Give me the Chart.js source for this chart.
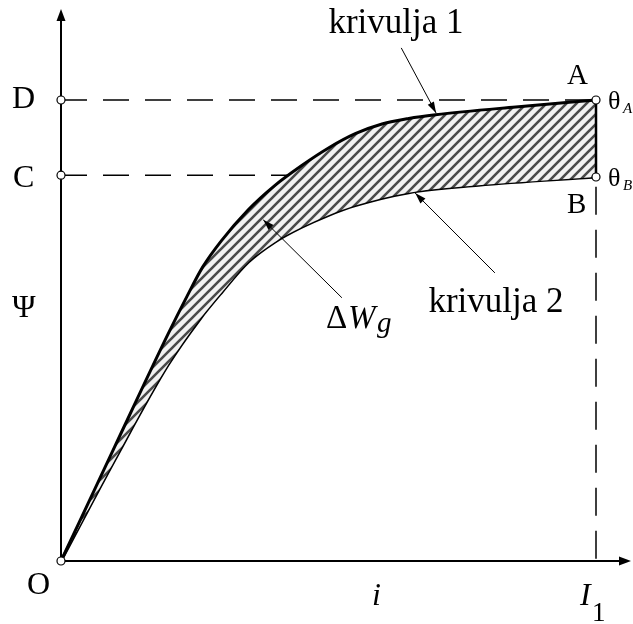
<!DOCTYPE html>
<html>
<head>
<meta charset="utf-8">
<script src="https://cdn.jsdelivr.net/npm/chart.js@4/dist/chart.umd.min.js"></script>
<style>
  html, body { margin: 0; padding: 0; background: #fff; }
  #wrap { width: 633px; height: 624px; }
</style>
</head>
<body>
<div id="wrap"><canvas id="chart" width="633" height="624"></canvas></div>
<script>
// magnetisation curves, i on x, flux linkage on y (I1 = 10)
const curve1I   = [0, 1.0, 2.0, 2.35, 2.65, 3.0, 3.5, 4.0, 4.5, 5.0, 5.5, 6.0, 6.5, 7.0, 8.5, 10];
const curve1Psi = [0, 2.47, 4.92, 5.73, 6.38, 6.95, 7.62, 8.15, 8.58, 8.96, 9.27, 9.48, 9.60, 9.68, 9.85, 10];
const curve2I   = [0, 1.0, 2.0, 2.6, 3.0, 3.5, 4.0, 4.5, 5.0, 5.5, 6.5, 7.8, 10];
const curve2Psi = [0, 2.18, 4.25, 5.25, 5.82, 6.48, 6.92, 7.24, 7.50, 7.71, 7.99, 8.15, 8.33];

const I1 = 10;
const psiA = 10;    // point A / level D
const psiB = 8.33;  // point B / level C
const psiC = 8.37;

const serif = '"Liberation Serif", "Times New Roman", serif';

const toPoints = (xs, ys) => xs.map((x, k) => ({ x: x, y: ys[k] }));

// hatch pattern for the area between the curves
function hatchPattern() {
  const s = 10;
  const c = document.createElement('canvas');
  c.width = s; c.height = s;
  const g = c.getContext('2d');
  g.fillStyle = '#f2f2f2';
  g.fillRect(0, 0, s, s);
  g.strokeStyle = '#4a4a4a';
  g.lineWidth = 2.6;
  g.beginPath();
  g.moveTo(-2, s + 2); g.lineTo(s + 2, -2);
  g.moveTo(-2, 2); g.lineTo(2, -2);
  g.moveTo(s - 2, s + 2); g.lineTo(s + 2, s - 2);
  g.stroke();
  return g.createPattern(c, 'repeat');
}

function arrowHead(ctx, x0, y0, x1, y1, len, half) {
  const a = Math.atan2(y1 - y0, x1 - x0);
  ctx.beginPath();
  ctx.moveTo(x1, y1);
  ctx.lineTo(x1 - len * Math.cos(a) + half * Math.sin(a), y1 - len * Math.sin(a) - half * Math.cos(a));
  ctx.lineTo(x1 - len * Math.cos(a) - half * Math.sin(a), y1 - len * Math.sin(a) + half * Math.cos(a));
  ctx.closePath();
  ctx.fill();
}

function pointer(ctx, sx, sy, from, to) {
  const x0 = sx.getPixelForValue(from[0]), y0 = sy.getPixelForValue(from[1]);
  const x1 = sx.getPixelForValue(to[0]), y1 = sy.getPixelForValue(to[1]);
  ctx.lineWidth = 1;
  ctx.beginPath();
  ctx.moveTo(x0, y0);
  ctx.lineTo(x1, y1);
  ctx.stroke();
  arrowHead(ctx, x0, y0, x1, y1, 11, 3.5);
}

const axesPlugin = {
  id: 'axes',
  beforeDatasetsDraw(chart) {
    const ctx = chart.ctx;
    const sx = chart.scales.x, sy = chart.scales.y;
    const ox = sx.getPixelForValue(0), oy = sy.getPixelForValue(0);
    ctx.save();
    ctx.strokeStyle = '#000';
    ctx.fillStyle = '#000';
    ctx.lineWidth = 2;
    ctx.beginPath();
    ctx.moveTo(ox, oy); ctx.lineTo(621, oy);
    ctx.moveTo(ox, oy); ctx.lineTo(ox, 19);
    ctx.stroke();
    arrowHead(ctx, ox, oy, 631, oy, 12, 4.5);
    arrowHead(ctx, ox, oy, ox, 9, 12, 4.5);
    ctx.restore();
  },
  afterDatasetsDraw(chart) {
    const ctx = chart.ctx;
    const sx = chart.scales.x, sy = chart.scales.y;
    const py = v => sy.getPixelForValue(v);
    ctx.save();
    ctx.fillStyle = '#000';
    ctx.strokeStyle = '#000';
    ctx.textBaseline = 'alphabetic';

    // pointers to the curves and the area
    pointer(ctx, sx, sy, [6.36, 11.13], [7.01, 9.72]);
    pointer(ctx, sx, sy, [8.11, 6.25], [6.62, 7.98]);
    pointer(ctx, sx, sy, [5.25, 5.71], [3.78, 7.40]);

    ctx.font = '35px ' + serif;
    ctx.textAlign = 'center';
    ctx.fillText('krivulja 1', 396, 33);
    ctx.fillText('krivulja 2', 496, 312);

    ctx.font = '32px ' + serif;
    ctx.textAlign = 'left';
    ctx.fillText('D', 12, py(psiA) + 8);
    ctx.fillText('C', 13, py(psiC) + 12);
    ctx.fillText('\u03A8', 12, 317);
    ctx.fillText('O', 27, 594);
    ctx.font = '29px ' + serif;
    ctx.fillText('A', 567, 84);
    ctx.fillText('B', 567, 213);

    // ΔW_g
    ctx.font = '33px ' + serif;
    ctx.fillText('\u0394', 326, 328);
    ctx.font = 'italic 33px ' + serif;
    ctx.fillText('W', 348, 328);
    ctx.font = 'italic 29px ' + serif;
    ctx.fillText('g', 377, 332);

    // axis names
    ctx.font = 'italic 32px ' + serif;
    ctx.fillText('i', 372, 605);
    ctx.fillText('I', 580, 605);
    ctx.font = '27px ' + serif;
    ctx.fillText('1', 592, 621);

    // theta labels at A and B
    ctx.font = '26px ' + serif;
    ctx.fillText('\u03B8', 608, py(psiA) + 9);
    ctx.fillText('\u03B8', 608, py(psiB) + 9);
    ctx.font = 'italic 15px ' + serif;
    ctx.fillText('A', 623, py(psiA) + 13);
    ctx.fillText('B', 623, py(psiB) + 13);
    ctx.restore();
  }
};

const black = '#000';

new Chart(document.getElementById('chart'), {
  type: 'scatter',
  data: {
    datasets: [
      {
        label: 'krivulja 1',
        type: 'line',
        data: toPoints(curve1I, curve1Psi),
        borderColor: black,
        borderWidth: 3,
        pointRadius: 0,
        cubicInterpolationMode: 'monotone',
        fill: { target: 1 },
        backgroundColor: hatchPattern(),
        order: 3
      },
      {
        label: 'krivulja 2',
        type: 'line',
        data: toPoints(curve2I, curve2Psi),
        borderColor: black,
        borderWidth: 3,
        pointRadius: 0,
        cubicInterpolationMode: 'monotone',
        fill: false,
        order: 3
      },
      {
        label: 'AB',
        type: 'line',
        data: [{ x: I1, y: psiA }, { x: I1, y: psiB }],
        borderColor: black,
        borderWidth: 2.5,
        pointRadius: 0,
        fill: false,
        order: 2
      },
      {
        label: 'D',
        type: 'line',
        data: [{ x: 0, y: psiA }, { x: I1, y: psiA }],
        borderColor: black,
        borderWidth: 1.5,
        borderDash: [26, 16],
        pointRadius: 0,
        fill: false,
        order: 4
      },
      {
        label: 'C',
        type: 'line',
        data: [{ x: 0, y: psiC }, { x: I1, y: psiC }],
        borderColor: black,
        borderWidth: 1.5,
        borderDash: [26, 16],
        pointRadius: 0,
        fill: false,
        order: 4
      },
      {
        label: 'I1',
        type: 'line',
        data: [{ x: I1, y: 8.12 }, { x: I1, y: 0 }],
        borderColor: black,
        borderWidth: 1.5,
        borderDash: [28, 15],
        pointRadius: 0,
        fill: false,
        order: 4
      },
      {
        label: 'points',
        data: [
          { x: 0, y: 0 },
          { x: 0, y: psiA },
          { x: 0, y: psiC },
          { x: I1, y: psiA },
          { x: I1, y: psiB }
        ],
        pointRadius: 4,
        pointBackgroundColor: '#fff',
        pointBorderColor: black,
        pointBorderWidth: 1.2,
        order: 0
      }
    ]
  },
  options: {
    responsive: false,
    animation: false,
    layout: { padding: 0, autoPadding: false },
    plugins: {
      legend: { display: false },
      tooltip: { enabled: false }
    },
    scales: {
      x: { type: 'linear', display: false, min: -61 / 53.5, max: 572 / 53.5 },
      y: { type: 'linear', display: false, min: -63 / 46.1, max: 561 / 46.1 }
    }
  },
  plugins: [axesPlugin]
});
</script>
</body>
</html>
